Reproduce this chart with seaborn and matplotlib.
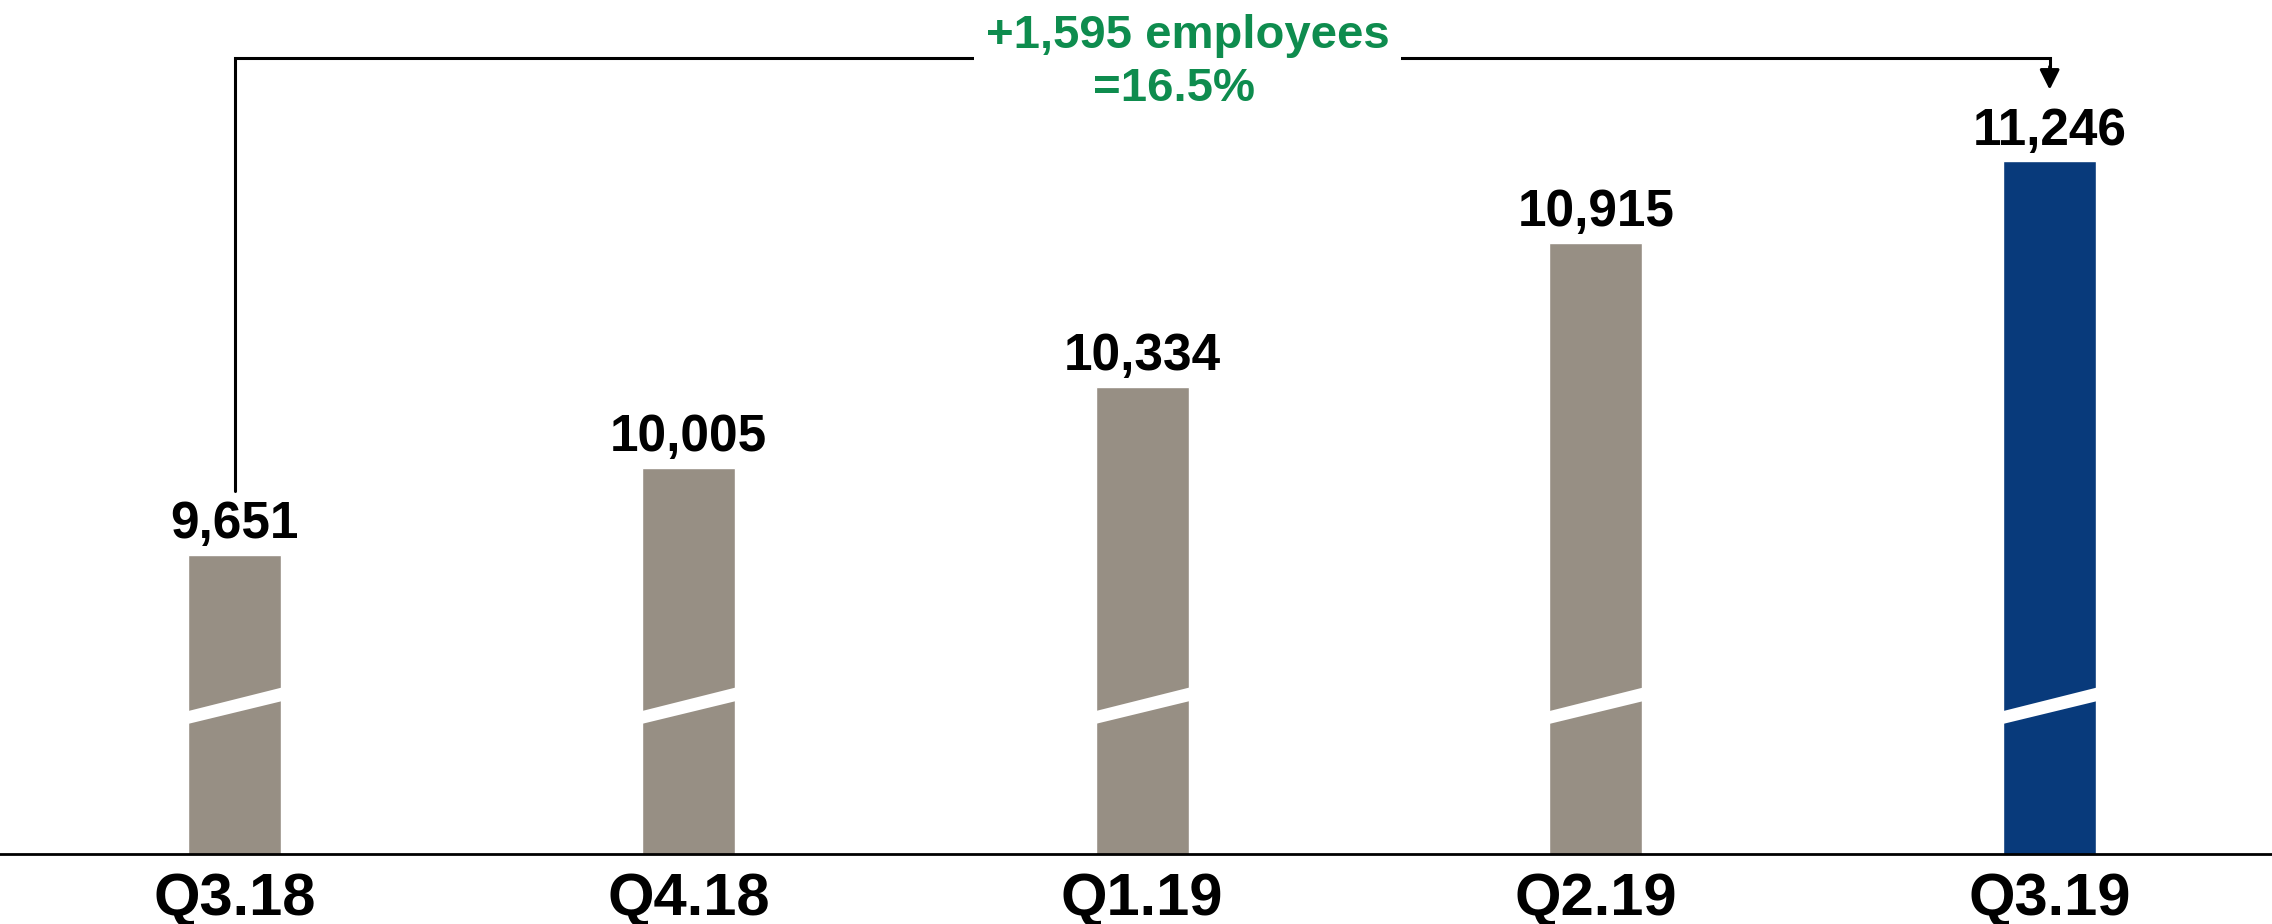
import matplotlib
matplotlib.use('Agg')
import matplotlib.pyplot as plt
from matplotlib.patches import Polygon
import pandas as pd
import seaborn as sns

sns.set_style('white')
plt.rcParams['font.family'] = ['Liberation Sans', 'DejaVu Sans']

quarters = ['Q3.18', 'Q4.18', 'Q1.19', 'Q2.19', 'Q3.19']
employees = [9651, 10005, 10334, 10915, 11246]
bar_colors = ['#978f84', '#978f84', '#978f84', '#978f84', '#083a7b']
change_text = '+1,595 employees'
pct_text = '=16.5%'

df = pd.DataFrame({'quarter': quarters, 'employees': employees})

fig = plt.figure(figsize=(22.72, 9.24), dpi=100)
ax = fig.add_axes([0, 0.0758, 1, 0.9242])
sns.barplot(data=df, x='quarter', y='employees', hue='quarter',
            palette=bar_colors, width=0.205, legend=False, ax=ax, saturation=1)

ax.set_ylim(8440, 11900)
ax.set_xlim(-0.517, 4.49)
ax.set_xlabel('')
ax.set_ylabel('')
ax.set_yticks([])
for s in ['top', 'left', 'right']:
    ax.spines[s].set_visible(False)
ax.spines['bottom'].set_color('black')
ax.spines['bottom'].set_linewidth(2)
ax.tick_params(axis='x', length=0, pad=13, labelsize=43, labelcolor='black')
for lbl in ax.get_xticklabels():
    lbl.set_fontweight('bold')

# value labels
for i, v in enumerate(employees):
    ax.annotate(f'{v:,}', (i, v), xytext=(0, 12), textcoords='offset points',
                ha='center', va='baseline', fontsize=37, fontweight='bold',
                color='black')

# white "broken axis" slash on each bar
tr = ax.get_xaxis_transform()
for p in ax.patches:
    x0 = p.get_x() - 0.01
    x1 = p.get_x() + p.get_width() + 0.01
    ax.add_patch(Polygon([(x0, 0.151), (x1, 0.180), (x1, 0.196), (x0, 0.166)],
                         closed=True, transform=tr, facecolor='white',
                         edgecolor='none', zorder=5))

# bracket showing change
y_line = 0.932
ax.plot([0, 0, 4, 4], [0.425, y_line, y_line, y_line - 0.012], color='black',
        lw=2.2, transform=tr, clip_on=False, solid_joinstyle='miter')
ax.annotate('', xy=(4, 0.895), xytext=(4, y_line - 0.01), xycoords=tr, textcoords=tr,
            arrowprops=dict(arrowstyle='-|>', color='black', lw=2.2,
                            mutation_scale=30, shrinkA=0, shrinkB=0))
ax.text(2.1, 0.944, change_text, transform=tr, ha='center', va='baseline',
        fontsize=34, fontweight='bold', color='#0e8c4e',
        bbox=dict(facecolor='white', edgecolor='none', pad=8), zorder=6)
ax.text(2.07, 0.882, pct_text, transform=tr, ha='center', va='baseline',
        fontsize=34, fontweight='bold', color='#0e8c4e', zorder=6)

fig.savefig('out.png', dpi=100)
